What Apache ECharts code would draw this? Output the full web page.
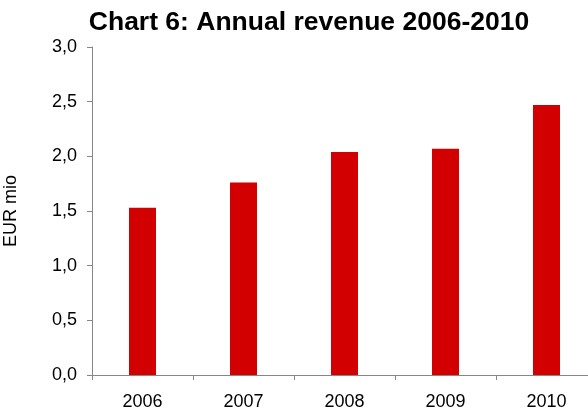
<!DOCTYPE html>
<html><head><meta charset="utf-8">
<script src="https://cdn.jsdelivr.net/npm/echarts@6/dist/echarts.min.js"></script>
<style>html,body{margin:0;padding:0;background:#fff}#c{width:588px;height:412px}</style>
</head><body><div id="c"></div>
<script>
const categories = ['2006', '2007', '2008', '2009', '2010'];
const revenue = [1.53, 1.76, 2.04, 2.07, 2.47];
const yTicks = [0, 0.5, 1.0, 1.5, 2.0, 2.5, 3.0];
const titleText = 'Chart 6: Annual revenue 2006-2010';
const yName = 'EUR mio';

const chart = echarts.init(document.getElementById('c'), null, {renderer: 'canvas'});
chart.setOption({
  animation: false,
  backgroundColor: '#fff',
  title: {
    text: titleText, left: 304, top: 4, textAlign: 'center',
    textStyle: {fontFamily: 'Liberation Sans', fontWeight: 'bold', fontSize: 26.5, color: '#000'}
  },
  grid: {left: 92, right: -9, top: 47, bottom: 37, containLabel: false, outerBoundsMode: 'none'},
  xAxis: {
    type: 'category', data: categories,
    axisLine: {lineStyle: {color: '#868686', width: 1}},
    axisTick: {show: true, length: 5, alignWithLabel: false, lineStyle: {color: '#868686'}},
    axisLabel: {fontFamily: 'Liberation Sans', fontSize: 18, color: '#000', margin: 18}
  },
  yAxis: {
    type: 'value', min: 0, max: 3, interval: 0.5,
    name: yName, nameLocation: 'middle', nameGap: 72, nameRotate: 90,
    nameTextStyle: {fontFamily: 'Liberation Sans', fontSize: 18, color: '#000'},
    axisLine: {show: true, lineStyle: {color: '#868686', width: 1}},
    axisTick: {show: true, length: 5, lineStyle: {color: '#868686'}},
    splitLine: {show: false},
    axisLabel: {
      fontFamily: 'Liberation Sans', fontSize: 18, color: '#000', margin: 15,
      formatter: v => yTicks.includes(v) ? v.toFixed(1).replace('.', ',') : ''
    }
  },
  series: [{
    type: 'bar', data: revenue, barWidth: 27,
    itemStyle: {color: '#D20000'}
  }]
});
</script></body></html>
